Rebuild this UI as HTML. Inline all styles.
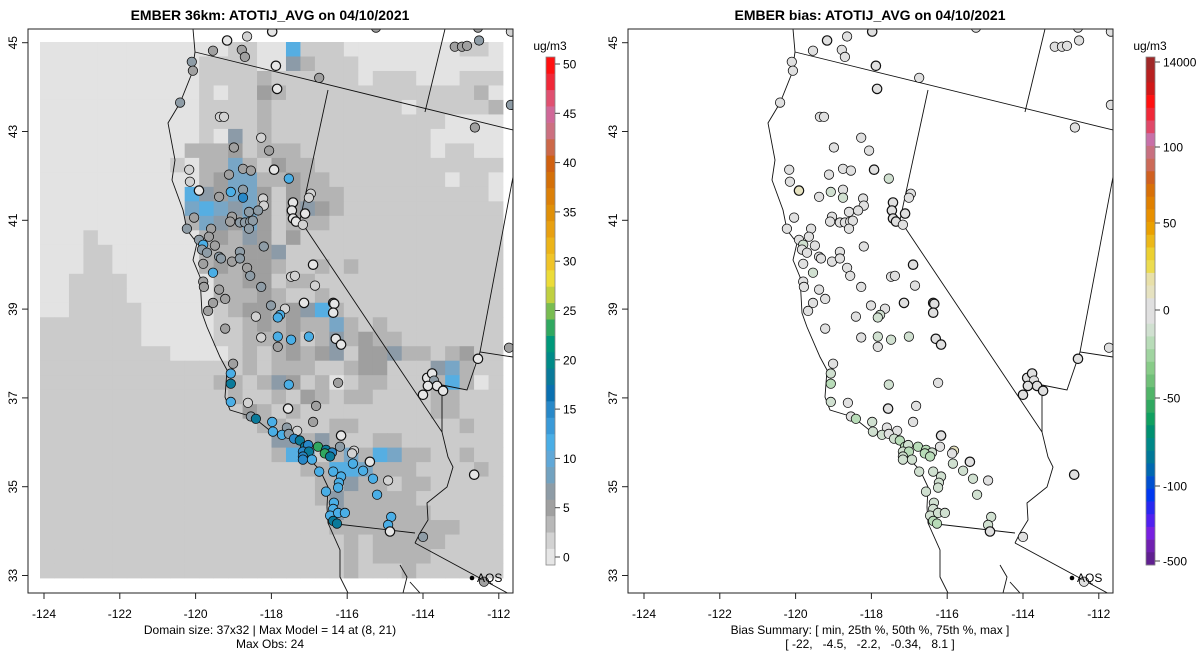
<!DOCTYPE html>
<html><head><meta charset="utf-8"><style>
html,body{margin:0;padding:0;background:#fff;}
svg{display:block;font-family:"Liberation Sans",Arial,sans-serif;}
</style></head><body>
<svg id="fig" width="1200" height="672" viewBox="0 0 1200 672" xmlns="http://www.w3.org/2000/svg">
<defs>
<clipPath id="clipL"><rect x="28" y="29" width="485" height="564"/></clipPath>
<clipPath id="clipR"><rect x="628" y="29" width="485" height="564"/></clipPath>
</defs>
<text x="270" y="20" text-anchor="middle" font-size="14" font-weight="bold">EMBER 36km: ATOTIJ_AVG on 04/10/2021</text>
<text x="870" y="20" text-anchor="middle" font-size="14" font-weight="bold">EMBER bias: ATOTIJ_AVG on 04/10/2021</text>
<g id="left"></g>
<g id="right"></g>
<text x="270" y="634" text-anchor="middle" font-size="12">Domain size: 37x32 | Max Model = 14 at (8, 21)</text>
<text x="270" y="648" text-anchor="middle" font-size="12">Max Obs: 24</text>
<text x="870" y="634" text-anchor="middle" font-size="12">Bias Summary: [ min, 25th %, 50th %, 75th %, max ]</text>
<text x="870" y="648" text-anchor="middle" font-size="12" xml:space="preserve">[ -22,   -4.5,   -2.2,   -0.34,   8.1 ]</text>
</svg>
<script>
// ---- data ----
const gridRows = [
"LLLLLLLLLLLLLMMLLBMMMLLLLLLLLMML",
"LLLLLLLLLLLMMMMLLSDMMMLLLLLLLLLL",
"LLLLLLLLLLLMMMMDMMMMMMLMMMLLLMMM",
"LLLLLLLLLLLMLMMKDMMMMMMMMMMMMMDL",
"LLLLLLLLLLLMMMMDMMMMMMMMMLMMMMMD",
"LLLLLLLLLLLMMMMDMMMMMMMMMMMMLLLL",
"LLLLLLLLLLLMLSMDMMMMMMMMMMMLLLLL",
"LLLLLLLLLLDDDKMDDDMMMMMMMMMLMMLL",
"LLLLLLLLLMLDDTDMKDDMMMMMMMMMMMMM",
"LLLLLLLLLLLDKTTDDKDDMMMMMMMMLMML",
"LLLLLLLLLLBSKTTKMKDDDMMMMMMMMMML",
"LLLLLLLLLLTBTSTKMKSKDMMMMMMMMMMM",
"LLLLLLLLLLDTSKTKMDDDMMMMMMMMMMMM",
"LLLMLLLLLLLDKDSKMKMMMMMMMMMMMMMM",
"LLLMMLLLLLLDDDKKSMMMMMMMMMMMMMMM",
"LLLMMLLLLLLDKDKKDMMDMDMMMMMMMMMM",
"LLMMMMLLLLLLDDKKMDDMMMMMMMMMMMMM",
"LLMMMMLLLLLLDDDKDMMDMMMMMMMMMMMM",
"LLMMMMMLLLLLMDKKDKSBDMMMMMMMMMMM",
"MMMMMMMLLLLLMMDKDKDDTDMDMMMMMMMM",
"MMMMMMMLLLLLMMDDDKMDSDKDDMMMMMMM",
"MMMMMMMMMLLLLMDMDKDKSMKKSDDMDKMM",
"MMMMMMMMMMMMMMDMDDDMMDKKMMMSTDMM",
"MMMMMMMMMMMMDDMDSKMDLMDDMMMDBDLM",
"MMMMMMMMMMMMMDMMDMKDMDDMMMMDDMMM",
"MMMMMMMMMMMMMMKDMDMMMMMMMMMDDMMM",
"MMMMMMMMMMMMMMMDDMMMDDMMMMMMMDMM",
"MMMMMMMMMMMMMMMMSSDSDMMDDMMMMMMM",
"MMMMMMMMMMMMMMMMDBTMDTDBTDDMMDMM",
"MMMMMMMMMMMMMMMMMMDDBBTDDDMMMMDM",
"MMMMMMMMMMMMMMMMMMMDDSDDMDDMMMMM",
"MMMMMMMMMMMMMMMMMMMDSDDDDDMMMMMM",
"MMMMMMMMMMMMMMMMMMMMSDDDDDDMMMMM",
"MMMMMMMMMMMMMMMMMMMMDDDDDDDDDMMM",
"MMMMMMMMMMMMMMMMMMMMMDMDDDDDMMMM",
"MMMMMMMMMMMMMMMMMMMMMDMDDDDMMMMM",
"MMMMMMMMMMMMMMMMMMMMMDMMMDMMMMMM"];
const cellLevels = {L:"#e3e3e3",M:"#cbcbcb",D:"#b4b4b4",K:"#9f9f9f",S:"#8c9ba8",T:"#78a6c6",B:"#56aee2"};

const siteLon = [-119.17,-118.64,-117.98,-115.24,-112.55,-111.68,-119.54,-118.78,-118.70,-117.88,
-120.10,-120.07,-116.74,-113.16,-112.97,-112.84,-112.52,-117.85,-120.41,-111.68,
-119.36,-119.25,-112.63,-118.27,-118.99,-118.06,-120.17,-118.75,-118.54,-117.93,
-117.54,-119.12,-120.15,-119.91,-119.38,-119.07,-118.75,-118.75,-118.22,-118.20,
-116.96,-117.01,-117.43,-117.46,-117.11,-117.43,-117.35,-117.17,-120.04,-120.23,
-119.04,-119.09,-118.83,-118.70,-118.56,-118.49,-118.59,-118.35,-118.59,-119.59,
-119.91,-119.80,-119.65,-119.49,-119.83,-119.70,-119.38,-119.33,-119.04,-118.83,
-118.83,-118.20,-119.80,-119.54,-118.64,-118.56,-117.48,-117.38,-116.90,-119.80,
-119.78,-119.38,-119.22,-118.27,-116.85,-119.54,-119.67,-117.14,-116.37,-116.34,
-116.37,-118.01,-117.64,-117.77,-117.83,-118.41,-119.22,-118.27,-117.83,-117.48,
-117.01,-117.83,-116.30,-116.16,-119.01,-119.07,-119.07,-119.07,-118.62,-117.54,
-116.24,-117.56,-116.82,-116.90,-112.55,-111.73,-113.89,-113.76,-113.71,-113.63,
-113.87,-113.47,-114.00,-112.65,-118.54,-118.41,-117.98,-117.59,-117.32,-117.96,
-117.72,-117.54,-117.40,-117.25,-117.11,-117.03,-117.17,-117.01,-116.77,-116.56,
-116.40,-116.59,-116.45,-116.19,-116.16,-115.82,-115.87,-117.17,-117.17,-116.93,
-115.40,-115.85,-115.58,-116.74,-116.37,-116.16,-116.22,-116.24,-115.32,-114.92,
-116.56,-115.21,-116.35,-116.37,-116.45,-116.24,-116.06,-116.37,-116.27,-114.84,
-114.92,-114.87,-114.00,-112.39];
const siteLat = [45.05,45.14,45.25,45.34,45.34,45.25,44.82,44.84,44.68,44.48,
44.57,44.37,44.21,44.91,44.91,44.93,45.05,43.96,43.65,43.60,
43.33,43.33,43.09,42.86,42.64,42.57,42.14,42.16,42.12,42.14,
41.94,42.03,41.87,41.67,41.53,41.64,41.69,41.51,41.49,41.33,
41.60,41.51,41.40,41.22,41.15,41.04,40.97,40.90,41.06,40.81,
41.08,40.97,40.95,40.95,40.97,40.99,41.19,41.22,40.81,40.81,
40.56,40.45,40.63,40.43,40.34,40.27,40.18,40.14,40.07,40.29,
40.14,40.41,40.02,39.82,39.93,39.75,39.73,39.75,40.00,39.62,
39.50,39.44,39.23,39.50,39.53,39.14,38.96,39.14,39.14,39.12,
38.92,39.08,39.01,38.87,38.81,38.83,38.56,38.36,38.38,38.31,
38.38,38.15,38.33,38.20,37.77,37.55,37.32,36.91,36.89,37.30,
37.34,36.76,36.82,36.46,37.88,38.13,37.45,37.55,37.39,37.27,
37.27,37.16,37.07,35.27,36.58,36.53,36.46,36.33,36.26,36.24,
36.17,36.19,36.08,36.04,35.90,35.94,35.79,35.79,35.90,35.83,
35.77,35.75,35.68,35.90,36.15,35.81,35.75,35.68,35.61,35.61,
35.56,35.52,35.36,35.34,35.34,35.23,35.09,34.98,35.18,35.14,
34.89,34.82,34.64,34.50,34.35,34.41,34.41,34.23,34.17,34.32,
34.14,33.99,33.87,32.86];
const siteObs = [0,2.5,0,4.5,4.5,2.5,4.5,4.5,4.5,0,
7.5,4.5,4.5,4.5,4.5,4.5,7.5,0,7.5,7.5,
2.5,2.5,4.5,2.5,4.5,4.5,2.5,4.5,4.5,0,
11,4.5,2.5,0,4.5,11,7.5,15,2.5,2.5,
2.5,2.5,0,0,0,0,0,2.5,4.5,7.5,
4.5,4.5,7.5,7.5,7.5,7.5,7.5,7.5,7.5,4.5,
7.5,11,4.5,4.5,7.5,7.5,7.5,7.5,4.5,7.5,
7.5,7.5,4.5,11,4.5,7.5,2.5,2.5,0,4.5,
4.5,4.5,4.5,7.5,2.5,4.5,4.5,0,0,0,
0,7.5,2.5,11,11,2.5,4.5,2.5,11,11,
11,4.5,0,0,4.5,11,19,11,2.5,11,
4.5,0,4.5,4.5,0,4.5,0,0,7.5,0,
0,0,0,0,7.5,19,11,7.5,2.5,11,
11,7.5,15,19,19,15,15,19,23,19,
15,23,19,7.5,0,2.5,2.5,15,15,11,
0,11,11,11,11,11,11,11,11,2.5,
11,11,11,11,11,11,11,19,19,11,
11,0,7.5,4.5];
const siteBias = [-1,-2,-1,-2,-2,-2,-2,-2,-2,-1,
-3,-2,-2,-2,-2,-2,-3,-1,-3,-3,
-2,-2,-2,-2,-2,-2,-2,-2,-2,-1,
-9,-2,-2,8,-2,-9,-3,-12,-2,-2,
-2,-2,-1,-1,-1,-1,-1,-2,-2,-3,
-2,-2,-3,-3,-3,-3,-3,-3,-3,-2,
-3,-9,-2,-2,-3,-3,-3,-3,-2,-3,
-3,-3,-2,-9,-2,-3,-2,-2,-1,-2,
-2,-2,-2,-3,-2,-2,-2,-1,-1,-1,
-1,-3,-2,-9,-9,-2,-2,-2,-9,-9,
-9,-2,-1,-1,-2,-9,-20,-9,-2,-9,
-2,-1,-2,-2,-1,-2,-1,-1,-3,-1,
-1,-1,-1,-1,-3,-20,-9,-3,-2,-9,
-9,-3,-12,-20,-20,-12,-12,-20,-22,-20,
-12,-22,-20,-3,-1,8,-2,-12,-12,-9,
-1,-9,-9,-9,-9,-9,-9,-9,-9,-2,
-9,-9,-9,-9,-9,-9,-9,-20,-20,-9,
-9,-1,-3,-2];

const lonTicks = [-124,-122,-120,-118,-116,-114,-112];
const latTicks = [45,43,41,39,37,35,33];
const obsColors = ["#e6e6e6","#d2d2d2","#b8b8b8","#a0a0a0","#8e9ca6","#72a2c0","#60a8d8","#4aaee6","#3a9ad8","#2888c8","#0a70b0","#0a7a9a","#008a88","#00987a","#30a860","#78bc50","#c0d040","#ecdc38","#f0c428","#ecb418","#e8a010","#e09008","#dc8008","#d47008","#d06010","#cc6848","#cc7080","#d06898","#e05070","#f02838","#ff1010"];
const obsTickVals = [0,5,10,15,20,25,30,35,40,45,50];
const biasColors = ["#a02828","#b82020","#d01818","#ff1010","#f02838","#e04868","#c870a8","#c87080","#cc6a58","#d06020","#d87008","#e08000","#e89000","#eaa000","#ecb818","#ecd030","#ecdc50","#e8e0a8","#e6e2c0","#e0e0e0","#e0e0e0","#d0e0d0","#b8dcb8","#a0d4a0","#88cc88","#70c078","#50b468","#30a860","#10a060","#009070","#008888","#007898","#0068b0","#0050d0","#0038f0","#2828f0","#5020f0","#7820e0","#7020b0","#602090"];
const biasTickVals = [14000,100,50,0,-50,-100,-500];
const biasTickLabels = ["14000","100","50","0","-50","-100","-500"];

// ---- axes ----
const NS="http://www.w3.org/2000/svg";
function mk(tag,attrs,parent){const e=document.createElementNS(NS,tag);for(const k in attrs)e.setAttribute(k,attrs[k]);parent.appendChild(e);return e;}
function xLon(lon,off){return off+44+(lon+124)*37.9;}
function yLat(lat){return 42.7+(45-lat)*44.4;}
function obsY(v){return 557-v*9.86;}
const biasPts=[[14000,62],[100,147],[50,223],[0,310],[-50,398],[-100,486],[-500,561]];
function biasY(v){for(let i=0;i<biasPts.length-1;i++){const a=biasPts[i],b=biasPts[i+1];if(v<=a[0]&&v>=b[0])return a[1]+(v-a[0])/(b[0]-a[0])*(b[1]-a[1]);}return v>0?57:565;}
function obsColor(v){let i=Math.floor((v+0.7)/1.66);i=Math.max(0,Math.min(obsColors.length-1,i));return obsColors[i];}
function biasColor(v){const h=508/biasColors.length;let i=Math.floor((biasY(v)-57)/h);i=Math.max(0,Math.min(biasColors.length-1,i));return biasColors[i];}

const mapLines=["M193,29 L195,52 L192,73 L180,103 L168,123 L175,160 L172,180 L183,210 L187,230 L197,243 L193,260 L200,277 L202,313 L207,327 L220,357 L227,370 L225,397 L230,410 L253,417 L273,433 L303,443 L310,460 L320,470 L328,487 L327,507 L328,523 L340,550 L340,577 L348,593",
"M195,52 L513,130","M328,90 L300,220 L442,432","M445,29 L425,112","M513,177 L480,352 L513,357",
"M442,385 L467,390 L480,352","M442,385 L442,432 L448,457 L453,467 L447,487 L427,503 L428,520 L420,533 L415,543",
"M328,523 L415,533","M415,543 L513,596","M400,565 L407,577 L403,593","M410,582 L420,593"];

function panel(g,off,isBias){
  const clip=mk("g",{"clip-path":isBias?"url(#clipR)":"url(#clipL)"},g);
  
  
  if(!isBias){
    const cw=(503-40)/32, ch=(578-42)/37;
    gridRows.forEach((row,r)=>{for(let c=0;c<32;c++){
      const rc=mk("rect",{x:(40+c*cw).toFixed(2),y:(42+r*ch).toFixed(2),width:(cw+0.4).toFixed(2),height:(ch+0.4).toFixed(2),fill:cellLevels[row[c]]||"#cbcbcb"},clip);
      
      
    }});
  }
  const lg=mk("g",{transform:`translate(${off},0)`,fill:"none",stroke:"#111","stroke-width":"0.9"},clip);
  
  
  mapLines.forEach(d=>mk("path",{d:d},lg));
  for(let i=0;i<siteLon.length;i++){
    const fill=isBias?biasColor(siteBias[i]):obsColor(siteObs[i]);
    const thick=siteObs[i]===0;
    const c=mk("circle",{cx:xLon(siteLon[i],off).toFixed(1),cy:yLat(siteLat[i]).toFixed(1),r:"4.7",fill:fill,stroke:"#111","stroke-width":thick?"1.2":"0.8"},clip);
    
    
  }
  const aq=mk("circle",{cx:472+off,cy:578,r:2.3,fill:"#000"},clip);
  
  
  const at=mk("text",{x:477+off,y:582,"font-size":"12"},clip);at.textContent="AQS";
  
  
  const box=mk("rect",{x:28+off,y:29,width:485,height:564,fill:"none",stroke:"#222","stroke-width":"1"},g);
  
  
  lonTicks.forEach(v=>{const x=xLon(v,off);
    mk("line",{x1:x,x2:x,y1:593,y2:599,stroke:"#222"},g);
    const t=mk("text",{x:x,y:618,"text-anchor":"middle","font-size":"12"},g);t.textContent=String(v);
    
    });
  latTicks.forEach(v=>{const y=yLat(v);
    mk("line",{x1:22+off,x2:28+off,y1:y,y2:y,stroke:"#222"},g);
    const t=mk("text",{x:0,y:0,"text-anchor":"middle","font-size":"12",transform:`translate(${17+off},${y}) rotate(-90)`},g);t.textContent=String(v);
    
    });
  // colorbar
  const cb=mk("g",{},g);
  
  
  const bx=546+off, cols=isBias?biasColors:obsColors;
  const h=508/cols.length;
  cols.forEach((col,i)=>{
    const yTop=isBias?57+i*h:565-(i+1)*h;
    const r=mk("rect",{x:bx,y:yTop.toFixed(2),width:9,height:(h+0.3).toFixed(2),fill:col},cb);
    
    
  });
  mk("rect",{x:bx,y:57,width:9,height:508,fill:"none",stroke:"#888","stroke-width":"0.8"},cb);
  const vals=isBias?biasTickVals:obsTickVals;
  vals.forEach((v,i)=>{const y=isBias?biasY(v):obsY(v);
    mk("line",{x1:bx+9,x2:bx+14,y1:y,y2:y,stroke:"#444"},cb);
    const t=mk("text",{x:bx+17,y:y+4.5,"font-size":"12"},cb);t.textContent=isBias?biasTickLabels[i]:String(v);
    
    });
  const u=mk("text",{x:bx+4,y:50,"text-anchor":"middle","font-size":"12"},cb);u.textContent="ug/m3";
  
  
}
panel(document.getElementById("left"),0,false);
panel(document.getElementById("right"),600,true);
</script>
</body></html>
